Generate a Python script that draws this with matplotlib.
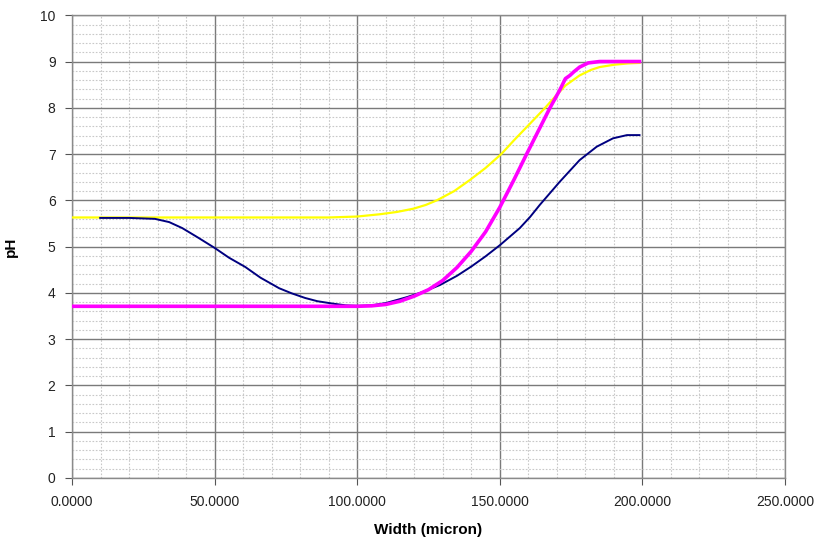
import matplotlib
matplotlib.use("Agg")
import matplotlib.pyplot as plt
from matplotlib.ticker import MultipleLocator, FormatStrFormatter

plt.rcParams['font.family'] = ['Liberation Sans', 'DejaVu Sans']

# navy curve
blue_x = [9.8, 20, 29, 34, 38.6, 44, 50, 55, 60.7, 66, 72.6, 77, 81.7, 86, 91.2, 96, 100,
          105, 110, 117.5, 123, 129, 135, 140, 145, 150, 157, 160.6, 164, 171, 178, 184, 189.7, 194.6, 199]
blue_y = [5.62, 5.62, 5.60, 5.53, 5.40, 5.20, 4.97, 4.76, 4.56, 4.33, 4.10, 3.99, 3.89, 3.82, 3.77, 3.73, 3.72,
          3.73, 3.78, 3.91, 4.02, 4.17, 4.37, 4.57, 4.79, 5.03, 5.40, 5.64, 5.90, 6.40, 6.87, 7.16, 7.34, 7.41, 7.41]

# yellow curve
yellow_x = [0, 30, 60, 90, 100, 108, 114, 119.7, 124, 127.9, 134, 139.5, 145, 150.5, 155, 160,
            165.9, 168.2, 173, 178, 182, 185, 190, 195, 199]
yellow_y = [5.63, 5.63, 5.63, 5.63, 5.65, 5.70, 5.75, 5.82, 5.90, 6.0, 6.20, 6.44, 6.70, 7.0, 7.3, 7.62,
            8.0, 8.16, 8.48, 8.70, 8.82, 8.88, 8.93, 8.96, 8.97]

# magenta curve
magenta_x = [0, 30, 60, 90, 100, 105, 110, 115, 120, 125, 130, 135, 140, 145, 150, 155, 159.4,
             163.5, 167.6, 171, 173, 174.6, 176, 178, 181, 185, 190, 195, 199]
magenta_y = [3.71, 3.71, 3.71, 3.71, 3.71, 3.72, 3.75, 3.82, 3.93, 4.07, 4.27, 4.55, 4.90, 5.32, 5.85, 6.45, 7.0,
             7.5, 8.0, 8.38, 8.63, 8.70, 8.78, 8.88, 8.97, 9.0, 9.0, 9.0, 9.0]

fig = plt.figure(figsize=(8.21, 5.45), dpi=100)
ax = fig.add_axes([0.088, 0.123, 0.868, 0.849])

ax.plot(yellow_x, yellow_y, color='#ffff00', linewidth=1.6, zorder=3)
ax.plot(blue_x, blue_y, color='#000080', linewidth=1.4, zorder=4)
ax.plot(magenta_x, magenta_y, color='#ff00ff', linewidth=2.6, zorder=5)

ax.set_xlim(0, 250)
ax.set_ylim(0, 10)
ax.xaxis.set_major_locator(MultipleLocator(50))
ax.xaxis.set_minor_locator(MultipleLocator(10))
ax.yaxis.set_major_locator(MultipleLocator(1))
ax.yaxis.set_minor_locator(MultipleLocator(0.2))
ax.xaxis.set_major_formatter(FormatStrFormatter('%.4f'))

ax.grid(which='major', color='#7a7a7a', linewidth=1.0)
ax.grid(which='minor', color='#c8c8c8', linewidth=0.8, linestyle=(0, (1.5, 1.5)))
ax.set_axisbelow(True)

for s in ax.spines.values():
    s.set_color('#8a8a8a')
    s.set_linewidth(1.0)

ax.tick_params(which='major', direction='out', length=5, color='#555555',
               labelsize=10, labelcolor='#222222', pad=7)
ax.tick_params(which='minor', length=0)

ax.set_xlabel('Width (micron)', fontsize=11, fontweight='bold', labelpad=10)
ax.set_ylabel('pH', fontsize=11, fontweight='bold', labelpad=16)

fig.savefig('out.png', dpi=100)
